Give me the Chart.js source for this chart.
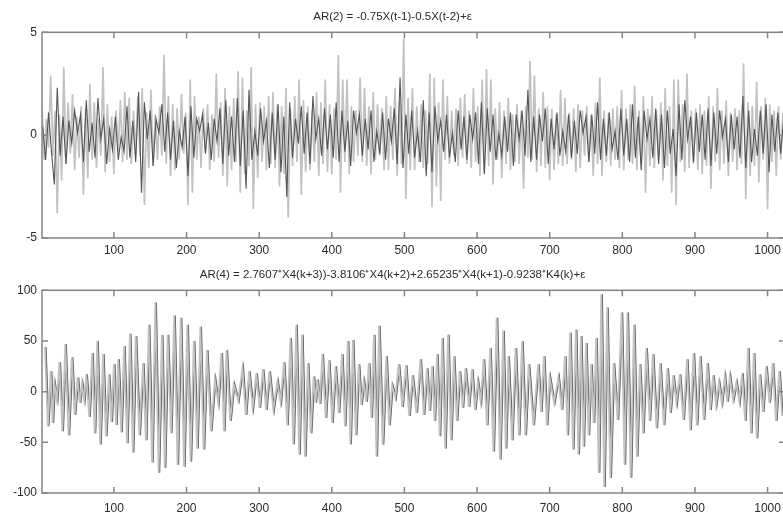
<!DOCTYPE html>
<html>
<head>
<meta charset="utf-8">
<script src="https://cdn.jsdelivr.net/npm/chart.js@4.4.1/dist/chart.umd.min.js"></script>
<style>
  html, body { margin: 0; padding: 0; background: #fff; overflow: hidden; width: 783px; height: 512px; }
  .panel { position: absolute; left: 0; }
  #ar2 { top: 0; }
  #ar4 { top: 258px; }
</style>
</head>
<body>
<canvas id="ar2" class="panel" width="800" height="260"></canvas>
<canvas id="ar4" class="panel" width="800" height="254"></canvas>
<script>
// ---- data ----
const N_SAMPLES = 1024;
const xTicks = [100, 200, 300, 400, 500, 600, 700, 800, 900, 1000];
const ar2Ticks = [-5, 0, 5];
const ar4Ticks = [-100, -50, 0, 50, 100];

const ar2Title = 'AR(2) = -0.75X(t-1)-0.5X(t-2)+\u03b5';
const ar4Title = 'AR(4) = 2.7607\u207aX4(k+3))-3.8106\u207aX4(k+2)+2.65235\u207aX4(k+1)-0.9238\u207aK4(k)+\u03b5';

// light trace, one value every 3 samples
const AR2_LIGHT_STEP = 3;
const ar2Light = [
  1.4, -1.2, 0.8, -0.6, 2.9, -1.0, 1.2, -3.8, 1.0, -2.2,
  3.3, -1.4, 1.6, -0.9, 2.0, -1.7, 0.9, -1.1, 1.4, -2.9,
  1.3, -2.1, 2.5, -1.2, 1.6, -1.6, 0.8, -1.0, 3.3, -1.8,
  1.5, -1.3, 0.9, -1.9, 1.2, -0.8, 1.7, -1.3, 2.1, -1.2,
  1.8, -1.4, 1.2, -0.9, 1.9, -1.0, 2.3, -3.4, 1.1, -1.6,
  2.2, -1.5, 1.0, -1.2, 1.4, -1.0, 3.9, -1.4, 1.9, -2.0,
  1.5, -1.7, 1.3, -1.2, 2.0, -0.9, 1.1, -3.4, 2.7, -2.8,
  1.9, -1.2, 0.9, -1.6, 1.3, -0.8, 1.5, -1.7, 1.0, -1.3,
  3.0, -1.1, 1.6, -2.0, 2.3, -2.5, 1.4, -1.7, 1.8, -1.3,
  3.1, -2.8, 2.8, -1.9, 1.2, -1.5, 3.3, -3.6, 1.5, -2.1,
  1.6, -1.3, 1.4, -1.7, 1.9, -1.4, 2.1, -1.6, 1.5, -2.5,
  1.4, -1.9, 2.3, -4.0, 1.3, -1.5, 1.9, -1.3, 2.7, -2.9,
  1.7, -1.8, 1.4, -1.7, 1.2, -1.3, 2.1, -2.0, 1.6, -1.4,
  2.7, -1.8, 1.5, -1.9, 1.3, -1.2, 3.9, -2.8, 2.7, -1.3,
  2.7, -1.9, 1.4, -1.3, 1.2, -1.0, 2.8, -1.3, 2.3, -1.5,
  1.4, -1.9, 2.1, -1.2, 1.5, -1.0, 1.3, -1.7, 1.9, -1.7,
  1.4, -1.2, 2.3, -2.0, 1.6, -1.4, 4.7, -3.1, 1.8, -1.7,
  2.3, -1.7, 1.4, -1.3, 1.5, -1.6, 1.2, -1.4, 3.0, -3.5,
  2.8, -2.5, 1.6, -3.2, 2.7, -1.2, 1.9, -1.4, 1.2, -1.0,
  1.3, -1.5, 1.8, -1.1, 2.0, -1.4, 1.2, -1.6, 2.3, -1.3,
  1.4, -2.0, 2.7, -1.8, 3.2, -1.5, 2.7, -2.4, 1.3, -1.2,
  1.6, -2.1, 1.2, -1.4, 1.8, -1.7, 1.0, -1.3, 1.5, -1.4,
  1.2, -2.6, 1.4, -1.1, 3.6, -1.2, 2.9, -1.8, 1.3, -1.5,
  2.1, -1.6, 1.4, -2.2, 1.3, -1.7, 1.0, -1.4, 2.2, -1.5,
  1.8, -1.4, 1.1, -1.2, 1.3, -1.8, 1.5, -1.6, 1.2, -1.0,
  1.4, -1.3, 1.0, -2.0, 1.6, -1.4, 2.8, -2.0, 1.2, -1.3,
  1.1, -1.5, 1.3, -1.2, 1.4, -1.6, 2.2, -1.7, 1.3, -1.2,
  1.5, -1.4, 2.4, -1.7, 1.2, -1.4, 1.9, -2.8, 1.3, -1.5,
  1.9, -1.6, 1.2, -1.2, 1.6, -2.2, 2.3, -1.5, 1.4, -2.8,
  2.7, -3.4, 2.7, -1.3, 1.5, -1.8, 3.0, -1.6, 1.2, -1.4,
  1.3, -1.7, 1.5, -1.9, 1.2, -1.5, 1.9, -2.6, 1.4, -1.3,
  2.3, -1.7, 1.2, -1.4, 1.7, -2.0, 1.1, -1.3, 1.3, -1.7,
  1.2, -1.4, 3.5, -3.1, 1.6, -2.0, 1.4, -1.5, 2.6, -2.3,
  1.4, -1.2, 1.8, -3.6, 1.5, -1.3, 1.2, -2.0, 1.4, -1.2,
  1.1, -1.6
];

// dark trace, one value every 4 samples
const AR2_DARK_STEP = 4;
const ar2Dark = [
  0.4, -1.2, 1.1, -0.8, -2.4, 2.3, -1.0, 0.9, -1.4, 0.7,
  -0.4, 1.2, 0.1, 1.0, -1.3, 1.7, -0.8, 0.6, -1.1, 1.8,
  -0.2, 0.8, -1.4, 0.3, -0.7, 0.9, -1.2, -0.1, -0.8, 1.4,
  -1.1, 0.7, -1.3, 2.1, -2.8, 1.6, -0.2, 1.2, -1.5, 0.8,
  0.1, 1.5, -0.8, 1.1, -1.2, 0.7, -1.6, 0.2, -0.6, 0.9,
  -2.0, 1.4, -1.1, 0.8, 0.2, 1.0, -0.9, 0.6, -1.2, 0.8,
  -0.3, 1.3, -1.4, 1.7, -1.0, 0.9, -1.3, 1.8, -1.5, 1.2,
  -2.6, 2.2, -1.2, 0.2, -1.0, 1.3, -0.3, 0.7, -1.6, 1.1,
  -1.2, 1.5, -1.8, 0.9, -3.0, 1.6, -1.1, 0.8, -0.4, 1.4,
  -0.9, 1.1, -1.4, 1.9, -0.2, 0.8, -1.0, 1.3, -0.7, 1.0,
  -1.1, 1.6, -1.3, 1.2, -0.8, 0.7, -1.5, 1.2, 0.1, 1.0,
  -1.0, 0.8, -0.7, 1.2, -1.3, 0.2, -0.9, 1.1, -1.2, 0.8,
  -0.3, 1.3, -1.4, 2.8, -1.6, 1.0, -0.9, 1.2, -1.1, 0.2,
  -1.3, 1.7, -2.0, 1.1, -1.8, 1.4, -0.3, 0.7, -0.8, 1.0,
  -1.1, 0.1, -1.3, 1.2, -0.7, 0.9, -1.2, 1.0, -0.2, 1.1,
  -1.4, 1.6, -1.9, 1.3, -0.8, 1.0, -1.2, 0.1, -1.0, 0.9,
  -0.8, 1.1, -1.5, 1.0, -0.2, 1.2, -1.0, 2.2, -1.3, 0.9,
  -1.2, 1.0, -0.3, 1.3, -1.4, 0.8, -0.7, 1.1, -1.0, 0.2,
  -0.8, 1.0, -1.1, 0.7, -0.9, 1.2, 0.1, 0.9, -1.3, 1.0,
  -0.9, 1.6, -1.2, 0.8, -1.0, 1.1, -0.7, 0.2, -1.2, 1.3,
  -1.0, 0.8, -1.3, 1.5, -1.1, 0.9, -1.7, 1.2, -0.2, 0.8,
  -1.1, 1.3, -1.4, 1.0, -1.6, 1.2, -0.9, 0.3, -2.0, 1.5,
  -1.2, 1.7, -0.2, 0.9, -1.3, 1.1, -0.8, 1.0, -1.2, 1.3,
  -1.5, 1.1, -0.9, 1.2, -0.1, 0.8, -1.3, 1.0, -0.7, 0.9,
  -1.1, 1.9, -1.6, 1.2, -1.3, 0.3, -1.0, 1.2, -0.9, 1.5,
  -1.8, 1.0, -0.8, 1.1, -0.9, 0.7
];

// AR(4): sample index of each crest, crest height, and the trough after it
const ar4PeakAt = [
  5, 13, 18, 25, 33, 42, 50, 56, 62, 70,
  77, 85, 93, 100, 106, 114, 122, 130, 140, 148,
  157, 166, 174, 183, 192, 201, 210, 219, 228, 239,
  248, 255, 265, 277, 286, 296, 305, 314, 325, 334,
  343, 351, 359, 367, 375, 380, 387, 396, 405, 414,
  422, 429, 437, 444, 451, 458, 465, 475, 483, 492,
  502, 511, 522, 531, 538, 545, 552, 560, 568, 576,
  584, 593, 601, 609, 618, 627, 636, 643, 653, 662,
  671,
  684, 692, 700, 712, 721, 728, 736, 743, 750, 757,
  764, 771, 779, 788, 799, 807, 816, 824, 833, 842,
  852, 862, 870, 879, 889, 898, 907, 917, 925, 933,
  941, 948, 957, 965, 973, 981, 989, 998, 1007, 1016
];
const ar4Peaks = [
  44, 20, 8, 29, 47, 34, 14, 8, 17, 38,
  50, 37, 17, 27, 32, 45, 57, 55, 28, 66,
  88, 56, 56, 75, 73, 66, 50, 64, 41, 12,
  38, 41, 7, 23, 20, 18, 22, 20, 10, 29,
  53, 66, 56, 28, 15, 12, 37, 31, 25, 37,
  50, 51, 27, 10, 28, 56, 65, 35, 6, 27,
  26, 16, 32, 23, 25, 37, 53, 56, 35, 20,
  23, 22, 10, 32, 43, 73, 60, 35, 43, 50,
  27,
  27, 35, 14, 14, 35, 58, 61, 55, 48, 27,
  53, 96, 83, 28, 78, 78, 66, 27, 43, 37,
  28, 23, 16, 17, 32, 38, 35, 28, 16, 9,
  15, 15, 9, 18, 43, 38, 17, 25, 28, 20
];
const ar4Troughs = [
  -34, -31, -8, -39, -43, -23, -11, -8, -25, -41,
  -52, -44, -30, -33, -40, -51, -60, -43, -48, -70,
  -80, -75, -41, -72, -74, -69, -56, -57, -39, -11,
  -39, -29, -9, -23, -16, -16, -18, -18, -10, -33,
  -52, -62, -64, -41, -11, -12, -26, -31, -21, -34,
  -52, -43, -13, -10, -26, -64, -52, -33, -6, -15,
  -24, -21, -23, -19, -29, -44, -56, -48, -29, -16,
  -15, -18, -10, -33, -59, -67, -56, -48, -43, -43,
  -33,
  -20, -33, -11, -18, -43, -57, -62, -54, -43, -31,
  -80, -94, -85, -28, -72, -85, -64, -41, -29, -36,
  -33, -21, -11, -28, -38, -33, -28, -18, -13, -11,
  -10, -8, -10, -29, -41, -46, -20, -11, -29, -24
];
// the dark AR(4) trace trails the light one by about a sample
const AR4_DARK_LAG = 1.2;

// ---- colours ----
const LIGHT = '#c2c2c2';
const DARK = '#555555';
const AXIS = '#858585';
const TEXT = '#2a2a2a';
const FONT = "'Liberation Sans', Arial, sans-serif";

// ---- build series ----
const lightPts = ar2Light.map((v, i) => ({ x: 1 + i * AR2_LIGHT_STEP, y: v }));
const darkPts = ar2Dark.map((v, i) => ({ x: 2 + i * AR2_DARK_STEP, y: v }));

function ar4Series(lag) {
  const pts = [];
  ar4PeakAt.forEach((at, k) => {
    const next = k + 1 < ar4PeakAt.length ? ar4PeakAt[k + 1] : N_SAMPLES;
    pts.push({ x: at + lag, y: ar4Peaks[k] });
    pts.push({ x: (at + next) / 2 + lag, y: ar4Troughs[k] });
  });
  return pts;
}

// MATLAB-like box with inward ticks
const boxPlugin = {
  id: 'box',
  afterDatasetsDraw(chart) {
    const { ctx, chartArea: a, scales } = chart;
    const yTicks = chart.options.plugins.box.yTicks;
    const len = 6;
    ctx.save();
    ctx.strokeStyle = AXIS;
    ctx.lineWidth = 1.5;
    ctx.strokeRect(a.left, a.top, a.right - a.left, a.bottom - a.top);
    ctx.beginPath();
    xTicks.forEach(v => {
      const px = scales.x.getPixelForValue(v);
      ctx.moveTo(px, a.top); ctx.lineTo(px, a.top + len);
      ctx.moveTo(px, a.bottom); ctx.lineTo(px, a.bottom - len);
    });
    yTicks.forEach(v => {
      const py = scales.y.getPixelForValue(v);
      ctx.moveTo(a.left, py); ctx.lineTo(a.left + len, py);
      ctx.moveTo(a.right, py); ctx.lineTo(a.right - len, py);
    });
    ctx.stroke();
    ctx.restore();
  }
};

function makeChart(id, title, yMin, yMax, yTicks, datasets, xAxisHeight, xPad) {
  return new Chart(document.getElementById(id), {
    type: 'line',
    data: { datasets },
    plugins: [boxPlugin],
    options: {
      responsive: false,
      animation: false,
      devicePixelRatio: 1,
      parsing: false,
      normalized: true,
      layout: { padding: { left: 0, right: 15, top: 0, bottom: 0 } },
      plugins: {
        legend: { display: false },
        tooltip: { enabled: false },
        title: {
          display: true, text: title, color: TEXT,
          font: { family: FONT, size: 11.5, weight: 'normal' },
          padding: { top: 10, bottom: 8.5 }
        },
        box: { yTicks }
      },
      elements: { point: { radius: 0 }, line: { tension: 0 } },
      scales: {
        x: {
          type: 'linear', min: 1, max: N_SAMPLES,
          grid: { display: false, drawTicks: false },
          border: { display: false },
          afterBuildTicks: s => { s.ticks = xTicks.map(v => ({ value: v })); },
          afterFit: s => { s.height = xAxisHeight; },
          ticks: { color: TEXT, font: { family: FONT, size: 12 }, padding: xPad, maxRotation: 0,
                   callback: v => String(v) }
        },
        y: {
          type: 'linear', min: yMin, max: yMax,
          grid: { display: false, drawTicks: false },
          border: { display: false },
          afterBuildTicks: s => { s.ticks = yTicks.map(v => ({ value: v })); },
          afterFit: s => { s.width = 42; },
          ticks: { color: TEXT, font: { family: FONT, size: 12 }, padding: 5,
                   callback: v => String(v) }
        }
      }
    }
  });
}

makeChart('ar2', ar2Title, -5, 5, ar2Ticks, [
  { data: lightPts, borderColor: LIGHT, borderWidth: 1.7, order: 2 },
  { data: darkPts, borderColor: DARK, borderWidth: 1.1, order: 1 }
], 22, 5);

makeChart('ar4', ar4Title, -100, 100, ar4Ticks, [
  { data: ar4Series(AR4_DARK_LAG), borderColor: DARK, borderWidth: 1.6, order: 2 },
  { data: ar4Series(0), borderColor: LIGHT, borderWidth: 1.8, order: 1 }
], 19, 8);
</script>
</body>
</html>
